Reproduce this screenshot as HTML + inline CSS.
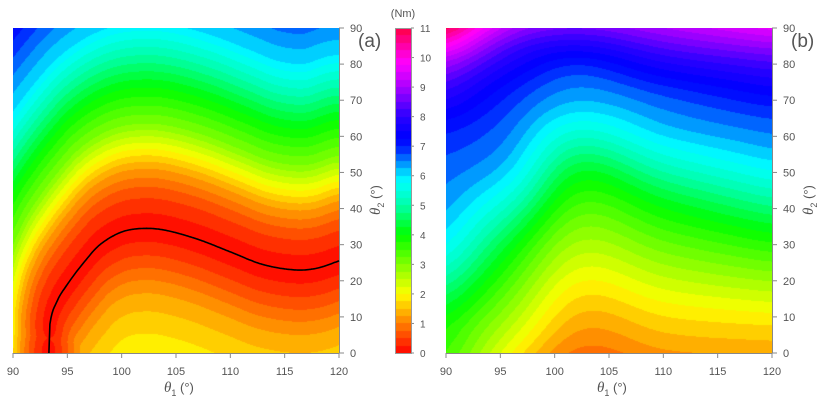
<!DOCTYPE html>
<html><head><meta charset="utf-8"><style>
body{margin:0;background:#fff;width:828px;height:405px;overflow:hidden;position:relative;font-family:"Liberation Sans",sans-serif;color:#555}
canvas{position:absolute}
</style></head><body>
<canvas id="a" width="326" height="325" style="left:13px;top:28px"></canvas>
<canvas id="b" width="326" height="325" style="left:446px;top:28px"></canvas>
<canvas id="c" width="16" height="325" style="left:395px;top:28px"></canvas>
<svg width="828" height="405" style="position:absolute;left:0;top:0" id="s"></svg>
<script>
function hue(v){var H=[[0,0],[1,30],[2,60],[3,90],[4,120],[5,160],[6,185],[7,235],[8,250],[9,280],[10,305],[11,345]];
if(v<=0)return 0;if(v>=11)return 345;var i=Math.floor(v);return H[i][1]+(v-i)*(H[i+1][1]-H[i][1]);}
function hsl(h){h/=60;var f=function(n){var k=(n+h)%6;return 255*(1-Math.max(0,Math.min(k,4-k,1)));};return [f(5),f(3),f(1)];}
function col(v){v=Math.floor(v*4)/4+0.125;return hsl(hue(v));}
function herm(xs,ys,x){var n=xs.length;if(x<=xs[0])return ys[0];if(x>=xs[n-1])return ys[n-1];
var i=0;while(x>xs[i+1])i++;
function m(k){if(k==0)return (ys[1]-ys[0])/(xs[1]-xs[0]);if(k==n-1)return (ys[n-1]-ys[n-2])/(xs[n-1]-xs[n-2]);return (ys[k+1]-ys[k-1])/(xs[k+1]-xs[k-1]);}
var h=xs[i+1]-xs[i],t=(x-xs[i])/h,t2=t*t,t3=t2*t;
return (2*t3-3*t2+1)*ys[i]+(t3-2*t2+t)*h*m(i)+(-2*t3+3*t2)*ys[i+1]+(t3-t2)*h*m(i+1);}
function lin(p,x){for(var i=0;i<p.length-1;i++){if(x<=p[i+1][0]){var t=(x-p[i][0])/(p[i+1][0]-p[i][0]);return p[i][1]+t*(p[i+1][1]-p[i][1]);}}var k=p.length-1;return p[k][1]+(x-p[k][0])*(p[k][1]-p[k-1][1])/(p[k][0]-p[k-1][0]);}
// ---- (a)
var cp=[[93.3,0],[93.4,8],[94,14],[95,19],[96.5,25],[98,30],[100,33.5],[102,34.5],[104,34],[107,31.5],[110,28],[113,24.5],[116,23],[118,23.5],[120,25.5]];
var cx=cp.map(function(p){return p[0]}),cy=cp.map(function(p){return p[1]});
function cc(x){return herm(cx,cy,x);}
var UP=[[0,0],[10,0.6],[17,1.3],[22,2],[29,3],[39,4],[48,5],[57,6],[67,6.6],[80,7.4],[100,8.3]];
var DN=[[0,0],[9,0.6],[17,1.2],[25,1.6],[36,2],[50,2.5]];
var KX=6.2,PX=[],PY=[];
for(var k=-40;k<0;k+=0.5){PX.push(93.3);PY.push(k);}
for(var t=93.3;t<=120.001;t+=0.1){PX.push(t);PY.push(cc(t));}
function fa(x,y){var best=1e9;for(var i=0;i<PX.length;i++){var dx=(x-PX[i])*KX,dy=y-PY[i],d=dx*dx+dy*dy;if(d<best)best=d;}
var d=Math.sqrt(best);var above=(x<93.3)||(y>cc(x));return above?lin(UP,d):lin(DN,d);}
// ---- (b)
var BC=[[90,[[0,3.6],[9,4],[32,6],[60,7],[72,8],[80,9],[85,10],[90,11]]],
[96,[[0,2],[28,4],[50,6],[72,7],[83,8],[90,9]]],
[102,[[0,0.9],[20,2],[48,4],[67,6],[80,7],[90,8.5]]],
[110,[[0,1.2],[14,2],[40,4],[60,6],[74,7],[90,9]]],
[120,[[0,1.3],[11,2],[33,4],[53,6],[68,7],[80,8.2],[90,9.6]]]];
var BX=BC.map(function(c){return c[0]});
var BK=BC.map(function(c){return [c[1].map(function(p){return p[0]}),c[1].map(function(p){return p[1]})];});
function fb0(x,y){var ys=BK.map(function(k){return herm(k[0],k[1],y);});return herm(BX,ys,x);}
function fb(x,y){var s=0,w=0;for(var k=-2;k<=2;k++){var xx=Math.min(120,Math.max(90,x+k*1));var ww=3-Math.abs(k);s+=fb0(xx,y)*ww;w+=ww;}return s/w;}
function draw(id,F){var c=document.getElementById(id),x=c.getContext('2d'),W=c.width,Hh=c.height,im=x.createImageData(W,Hh);
for(var j=0;j<Hh;j++)for(var i=0;i<W;i++){var t1=90+30*(i+0.5)/W,t2=90*(1-(j+0.5)/Hh);var k=col(F(t1,t2)),o=(j*W+i)*4;im.data[o]=k[0];im.data[o+1]=k[1];im.data[o+2]=k[2];im.data[o+3]=255;}
x.putImageData(im,0,0);}
draw('a',fa);draw('b',fb);
(function(){var c=document.getElementById('c'),x=c.getContext('2d');for(var j=0;j<325;j++){var v=11*(1-(j+0.5)/325);var k=col(v);x.fillStyle='rgb('+k.map(Math.round)+')';x.fillRect(0,j,16,1);}})();
var s='';function L(x1,y1,x2,y2){s+='<line x1="'+x1+'" y1="'+y1+'" x2="'+x2+'" y2="'+y2+'" stroke="#888" stroke-width="1"/>';}
function T(x,y,t,a,fs){s+='<text x="'+x+'" y="'+y+'" font-size="'+(fs||11)+'" fill="#555" text-anchor="'+(a||'start')+'">'+t+'</text>';}
[[13,339],[446,772]].forEach(function(p,k){var x0=p[0],x1=p[1];L(x0,353.5,x1,353.5);L(x1+0.5,28,x1+0.5,353);
for(var i=0;i<7;i++){var x=x0+(x1-x0)*i/6;L(x,353,x,358);T(x,375,90+5*i,'middle');}
for(var i=0;i<10;i++){var y=353-325*i/9;L(x1,y,x1+5,y);T(x1+11,y+4,10*i);}
T((x0+x1)/2-12,392,'<tspan font-style="italic" font-family="Liberation Serif" font-size="15">θ</tspan><tspan font-size="9" dy="4">1</tspan><tspan dy="-4"> (°)</tspan>','start',13);
s+='<text transform="translate('+(x1+41)+',215) rotate(-90)" font-size="13" fill="#555"><tspan font-style="italic" font-family="Liberation Serif" font-size="15">θ</tspan><tspan font-size="9" dy="4">2</tspan><tspan dy="-4"> (°)</tspan></text>';
T(x1+19,47,k?'(b)':'(a)','start',19);});
var cb='';for(var i=0;i<12;i++){var y=353-325*i/11;cb+='<line x1="411" y1="'+y+'" x2="414" y2="'+y+'" stroke="#888"/><text x="420" y="'+(y+4)+'" font-size="10" fill="#555">'+i+'</text>';}
cb+='<text x="403" y="17" font-size="11" fill="#555" text-anchor="middle">(Nm)</text><rect x="395.5" y="28.5" width="16" height="325" fill="none" stroke="#999"/>';
var d='';for(var t=93.3;t<=120.001;t+=0.1){var yy=cc(t);d+=(d?'L':'M')+(13+(t-90)/30*326).toFixed(1)+' '+(353-yy/90*325).toFixed(1)+' ';}
cb+='<path d="'+d+'" fill="none" stroke="#000" stroke-width="1.6"/>';
document.getElementById('s').innerHTML=s+cb;
</script>
</body></html>
